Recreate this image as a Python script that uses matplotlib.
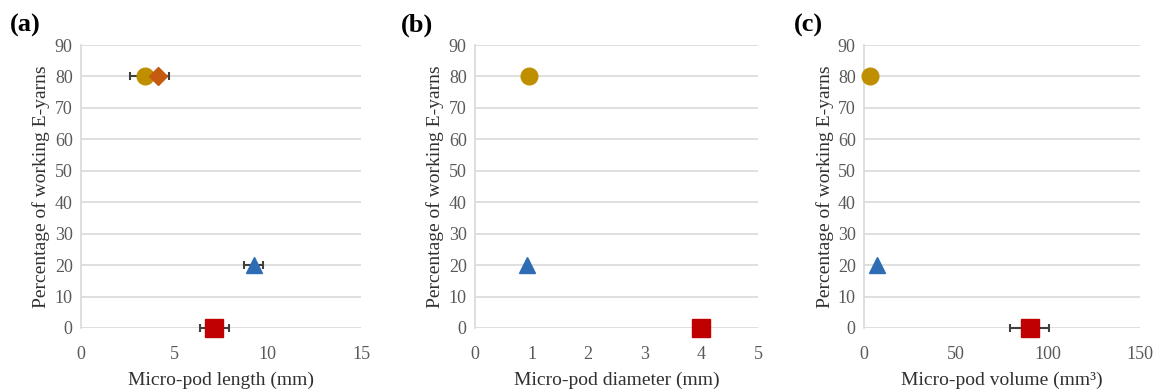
import matplotlib
matplotlib.use("Agg")
import matplotlib.pyplot as plt

plt.rcParams["font.family"] = ["Liberation Serif", "DejaVu Serif"]

nan = float("nan")

# series: circle, diamond, triangle, square
percent_working = [80, 80, 20, 0]
pod_length = [3.45, 4.1, 9.25, 7.15]
pod_length_err = [0.8, 0.6, 0.5, 0.8]
pod_diameter = [0.96, nan, 0.91, 3.99]
pod_volume = [3.3, nan, 6.9, 90.0]
pod_volume_err = [0, 0, 0, 10.5]

markers = ["o", "D", "^", "s"]
colors = ["#BF8F00", "#C55A11", "#2E6DB4", "#C00000"]
sizes = [12, 9, 11, 13]

GRID = "#D9D9D9"
TXT = "#595959"

fig = plt.figure(figsize=(11.56, 3.92), dpi=100)

panels = [
    ("(a)", pod_length, pod_length_err, (0, 15), [0, 5, 10, 15], "Micro-pod length (mm)",
     [81, 280], 25),
    ("(b)", pod_diameter, None, (0, 5), [0, 1, 2, 3, 4, 5], "Micro-pod diameter (mm)",
     [475, 283], 417),
    ("(c)", pod_volume, pod_volume_err, (0, 150), [0, 50, 100, 150],
     "Micro-pod volume (mm\u00b3)", [864, 276], 808),
]

for tag, xs, xerr, xlim, xticks, xlabel, (px, pw), tagx in panels:
    ax = fig.add_axes([px / 1156, 64 / 392, pw / 1156, 283 / 392])
    for i in range(4):
        err = None if xerr is None or xerr[i] == 0 else xerr[i]
        ax.errorbar(xs[i], percent_working[i], xerr=err, fmt=markers[i],
                    color=colors[i], ms=sizes[i], mec=colors[i],
                    ecolor="#404040", elinewidth=1.5, capsize=3, capthick=1.5,
                    clip_on=False, zorder=3)
    ax.set_xlim(*xlim)
    ax.set_ylim(0, 90)
    ax.set_xticks(xticks)
    ax.set_yticks(range(0, 91, 10))
    ax.grid(axis="y", color=GRID, linewidth=1.2, zorder=0)
    for s in ["top", "right", "bottom"]:
        ax.spines[s].set_visible(False)
    ax.spines["left"].set_color(GRID)
    ax.spines["left"].set_linewidth(1.2)
    ax.tick_params(length=0, labelsize=13, colors=TXT, pad=6)
    ax.tick_params(axis="x", pad=13)
    ax.set_xlabel(xlabel, fontsize=14, color="#303030", labelpad=6)
    ax.set_ylabel("Percentage of working E-yarns", fontsize=14, color="#303030", labelpad=3)
    fig.text(tagx / 1156, 1 - 25 / 392, tag, fontsize=19, fontweight="bold",
             ha="center", va="center")

fig.savefig("out.png", dpi=100)
